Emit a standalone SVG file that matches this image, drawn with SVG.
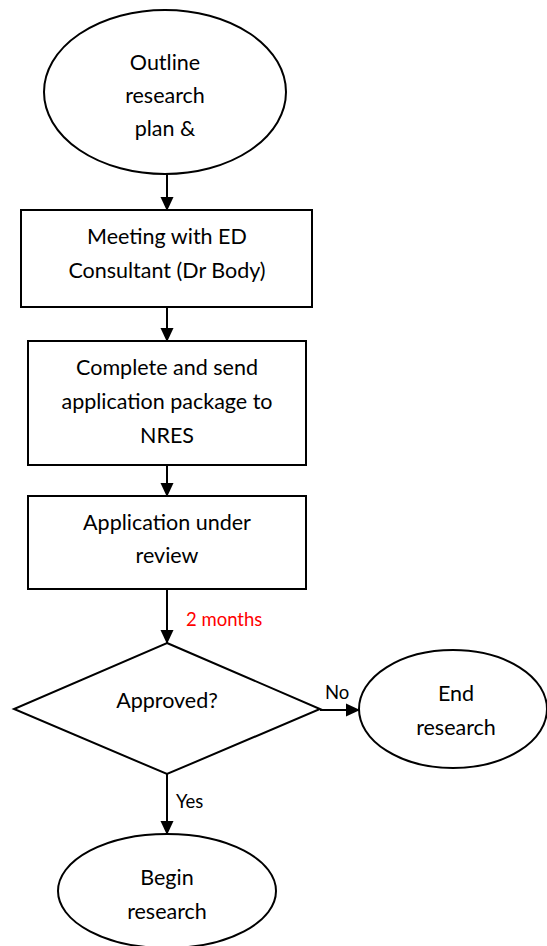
<svg xmlns="http://www.w3.org/2000/svg" width="547" height="946" viewBox="0 0 547 946">
<style>
.s{fill:#fff;stroke:#000;stroke-width:2}
.t{font-family:Lato,"Liberation Sans",sans-serif;font-size:21.5px;fill:#000;text-anchor:middle}
.l{font-family:Lato,"Liberation Sans",sans-serif;font-size:18.5px;fill:#000}
.c{stroke:#000;stroke-width:2;fill:none;marker-end:url(#ah)}
</style>
<defs>
<marker id="ah" markerWidth="14" markerHeight="14" refX="13" refY="7" orient="auto" markerUnits="userSpaceOnUse">
<path d="M0,0.5 L14,7 L0,13.5 Z" fill="#000"/>
</marker>
</defs>
<g id="connectors">
<line class="c" x1="167" y1="174" x2="167" y2="210"/>
<line class="c" x1="167" y1="307" x2="167" y2="341"/>
<line class="c" x1="167" y1="465" x2="167" y2="496"/>
<line class="c" x1="167" y1="589" x2="167" y2="643"/>
<line class="c" x1="320" y1="710" x2="359" y2="710"/>
<line class="c" x1="167" y1="774" x2="167" y2="834"/>
</g>
<g id="outline">
<ellipse class="s" cx="165" cy="92" rx="121" ry="82"/>
<text class="t" x="165" y="70">Outline</text>
<text class="t" x="165" y="103">research</text>
<text class="t" x="165" y="136">plan &amp;</text>
</g>
<g id="meeting">
<rect class="s" x="21" y="210" width="291" height="97"/>
<text class="t" x="167" y="244">Meeting with ED</text>
<text class="t" x="167" y="278">Consultant (Dr Body)</text>
</g>
<g id="complete">
<rect class="s" x="28" y="341" width="278" height="124"/>
<text class="t" x="167" y="375">Complete and send</text>
<text class="t" x="167" y="409">application package to</text>
<text class="t" x="167" y="443">NRES</text>
</g>
<g id="review">
<rect class="s" x="28" y="496" width="278" height="93"/>
<text class="t" x="167" y="530">Application under</text>
<text class="t" x="167" y="563">review</text>
</g>
<text class="l" x="186" y="626" style="fill:#ff0000">2 months</text>
<g id="approved">
<polygon class="s" points="167,643 320,709 167,774 14,709"/>
<text class="t" x="167" y="708">Approved?</text>
</g>
<text class="l" x="325" y="699">No</text>
<g id="end">
<ellipse class="s" cx="453" cy="709" rx="94" ry="59"/>
<text class="t" x="456" y="701">End</text>
<text class="t" x="456" y="735">research</text>
</g>
<text class="l" x="176" y="808">Yes</text>
<g id="begin">
<ellipse class="s" cx="167" cy="891" rx="109" ry="57"/>
<text class="t" x="167" y="885">Begin</text>
<text class="t" x="167" y="919">research</text>
</g>
</svg>
